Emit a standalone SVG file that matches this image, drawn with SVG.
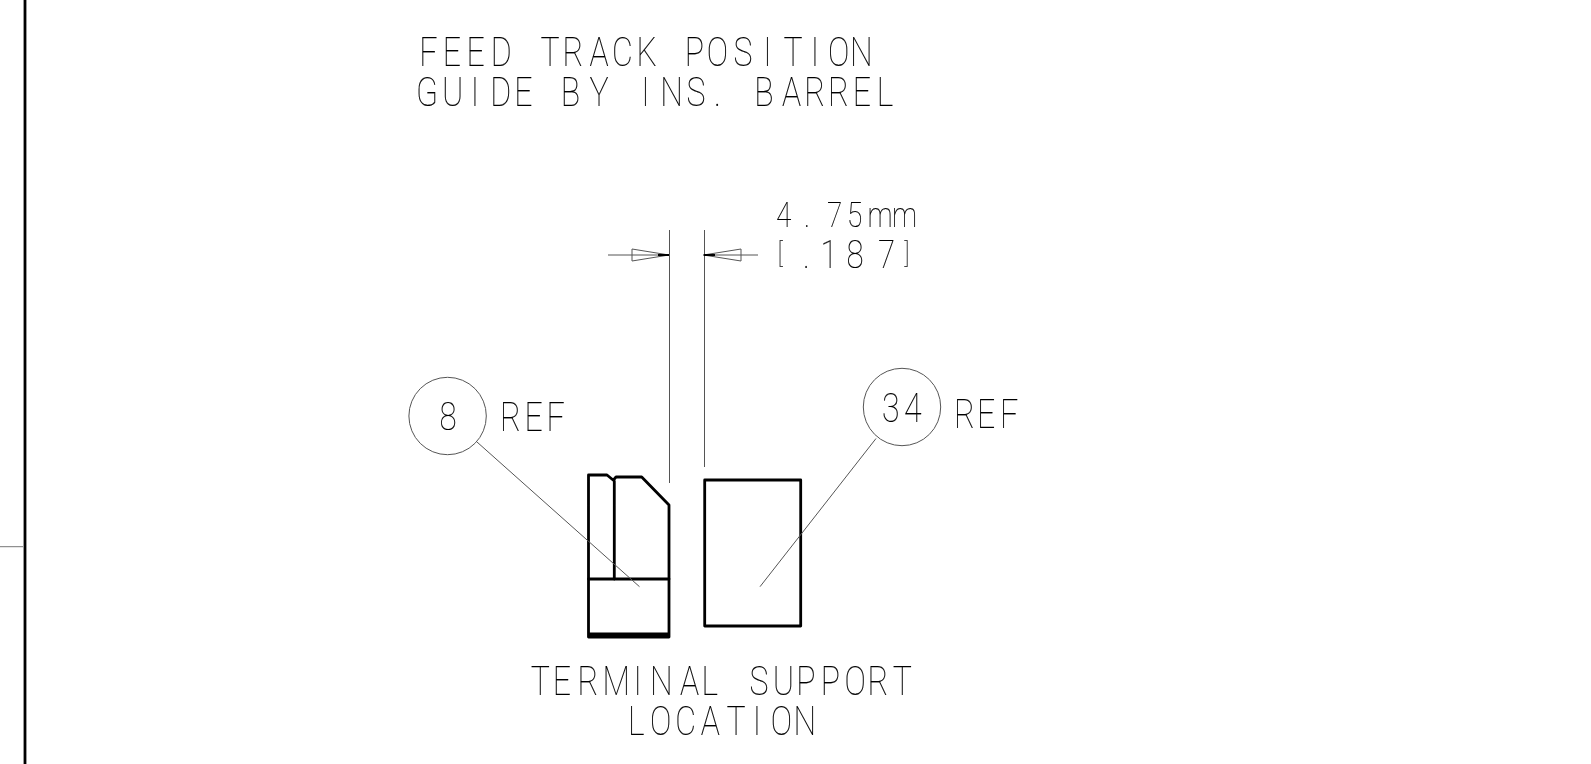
<svg xmlns="http://www.w3.org/2000/svg" width="1591" height="764" viewBox="0 0 1591 764">
<defs><filter id="gray" filterUnits="userSpaceOnUse" x="0" y="0" width="1591" height="764" color-interpolation-filters="sRGB"><feOffset dx="0" dy="0"/></filter></defs>
<style>
text{font-family:Roboto,"Liberation Sans",sans-serif;font-weight:100;fill:#000;font-size:40px;stroke:#000;stroke-width:.15}
.cad{filter:url(#gray)}
.d{font-size:35px}
.e{font-size:39px}
.b{font-size:28px}
.th{fill:none;stroke:#555;stroke-width:1}
.ob{fill:none;stroke:#000;stroke-width:2.8;stroke-linejoin:round;stroke-linecap:round}
</style>
<rect width="1591" height="764" fill="#fff"/>
<g id="border" fill="none">
<path d="M25 0V764" stroke="#000" stroke-width="2.8"/>
<path d="M0 546.7H23" stroke="#777" stroke-width="1"/>
</g>
<g id="notes" class="cad">
<text transform="scale(.8 1)" y="66" x="524 553.5 583 613.5 640 675.5 703 737 765 795.5 830 856 883.5 917 954 979.5 1013.5 1035 1062.5">FEED TRACK POSITION</text>
<text transform="scale(.8 1)" y="106" x="520 552.5 588.5 612.8 642.8 670 701 737 770 801.5 825.3 858 892.4 920 942.8 977.6 1005.3 1034.9 1066 1096">GUIDE BY INS. BARREL</text>
<text transform="scale(.8 1)" y="695" x="663.5 691 722 753 792 812.5 850 877 900 937 966 995.2 1025.8 1055.5 1084.5 1116">TERMINAL SUPPORT</text>
<text transform="scale(.8 1)" y="735" x="785 812.5 844 876 908 941 963.5 992">LOCATION</text>
</g>
<g id="part-left">
<path class="ob" d="M614.3 579V481L607 475H588.5V637H669V505L641.7 477H616L614.3 479"/>
<path class="ob" d="M588.5 579H669"/>
<path d="M588.5 635H669" stroke="#000" stroke-width="5" fill="none"/>
</g>
<g id="part-right">
<rect class="ob" x="704.7" y="480" width="96" height="146"/>
</g>
<g id="balloon-8" class="cad">
<circle class="th" cx="447.6" cy="416" r="38.7"/>
<text transform="scale(.8 1)" y="430" x="549.5" class="e">8</text>
<text transform="scale(.8 1)" y="431" x="625 655.6 683">REF</text>
</g>
<g id="balloon-34" class="cad">
<circle class="th" cx="902" cy="407" r="38.7"/>
<text transform="scale(.8 1)" y="422" x="1102.5 1130">34</text>
<text transform="scale(.8 1)" y="428" x="1192.5 1221.3 1250">REF</text>
</g>
<g id="dimension" class="cad">
<text transform="scale(.8 1)" y="227" x="970 1005 1033.8 1058.8 1084.5 1115" class="d">4.75mm</text>
<text transform="scale(.8 1)" class="e"><tspan class="b" x="972.3" y="263.5">[</tspan><tspan y="268" x="1003.8 1025.5 1058 1097.5">.187</tspan><tspan class="b" x="1130.5" y="263.5">]</tspan></text>
</g>
<g id="connectors">
<path class="th" d="M669.5 230V483M704.5 230V467"/>
<path class="th" d="M608 255H669M703 255H758"/>
<path class="th" d="M669 255L632 249V261Z M703.5 255L741 249V261Z"/>
<path d="M658 255H669M704 255H715" stroke="#000" stroke-width="1.8"/>
<path class="th" d="M477 442L639.5 586.7M876 438.5L760 586.7"/>
</g>
</svg>
